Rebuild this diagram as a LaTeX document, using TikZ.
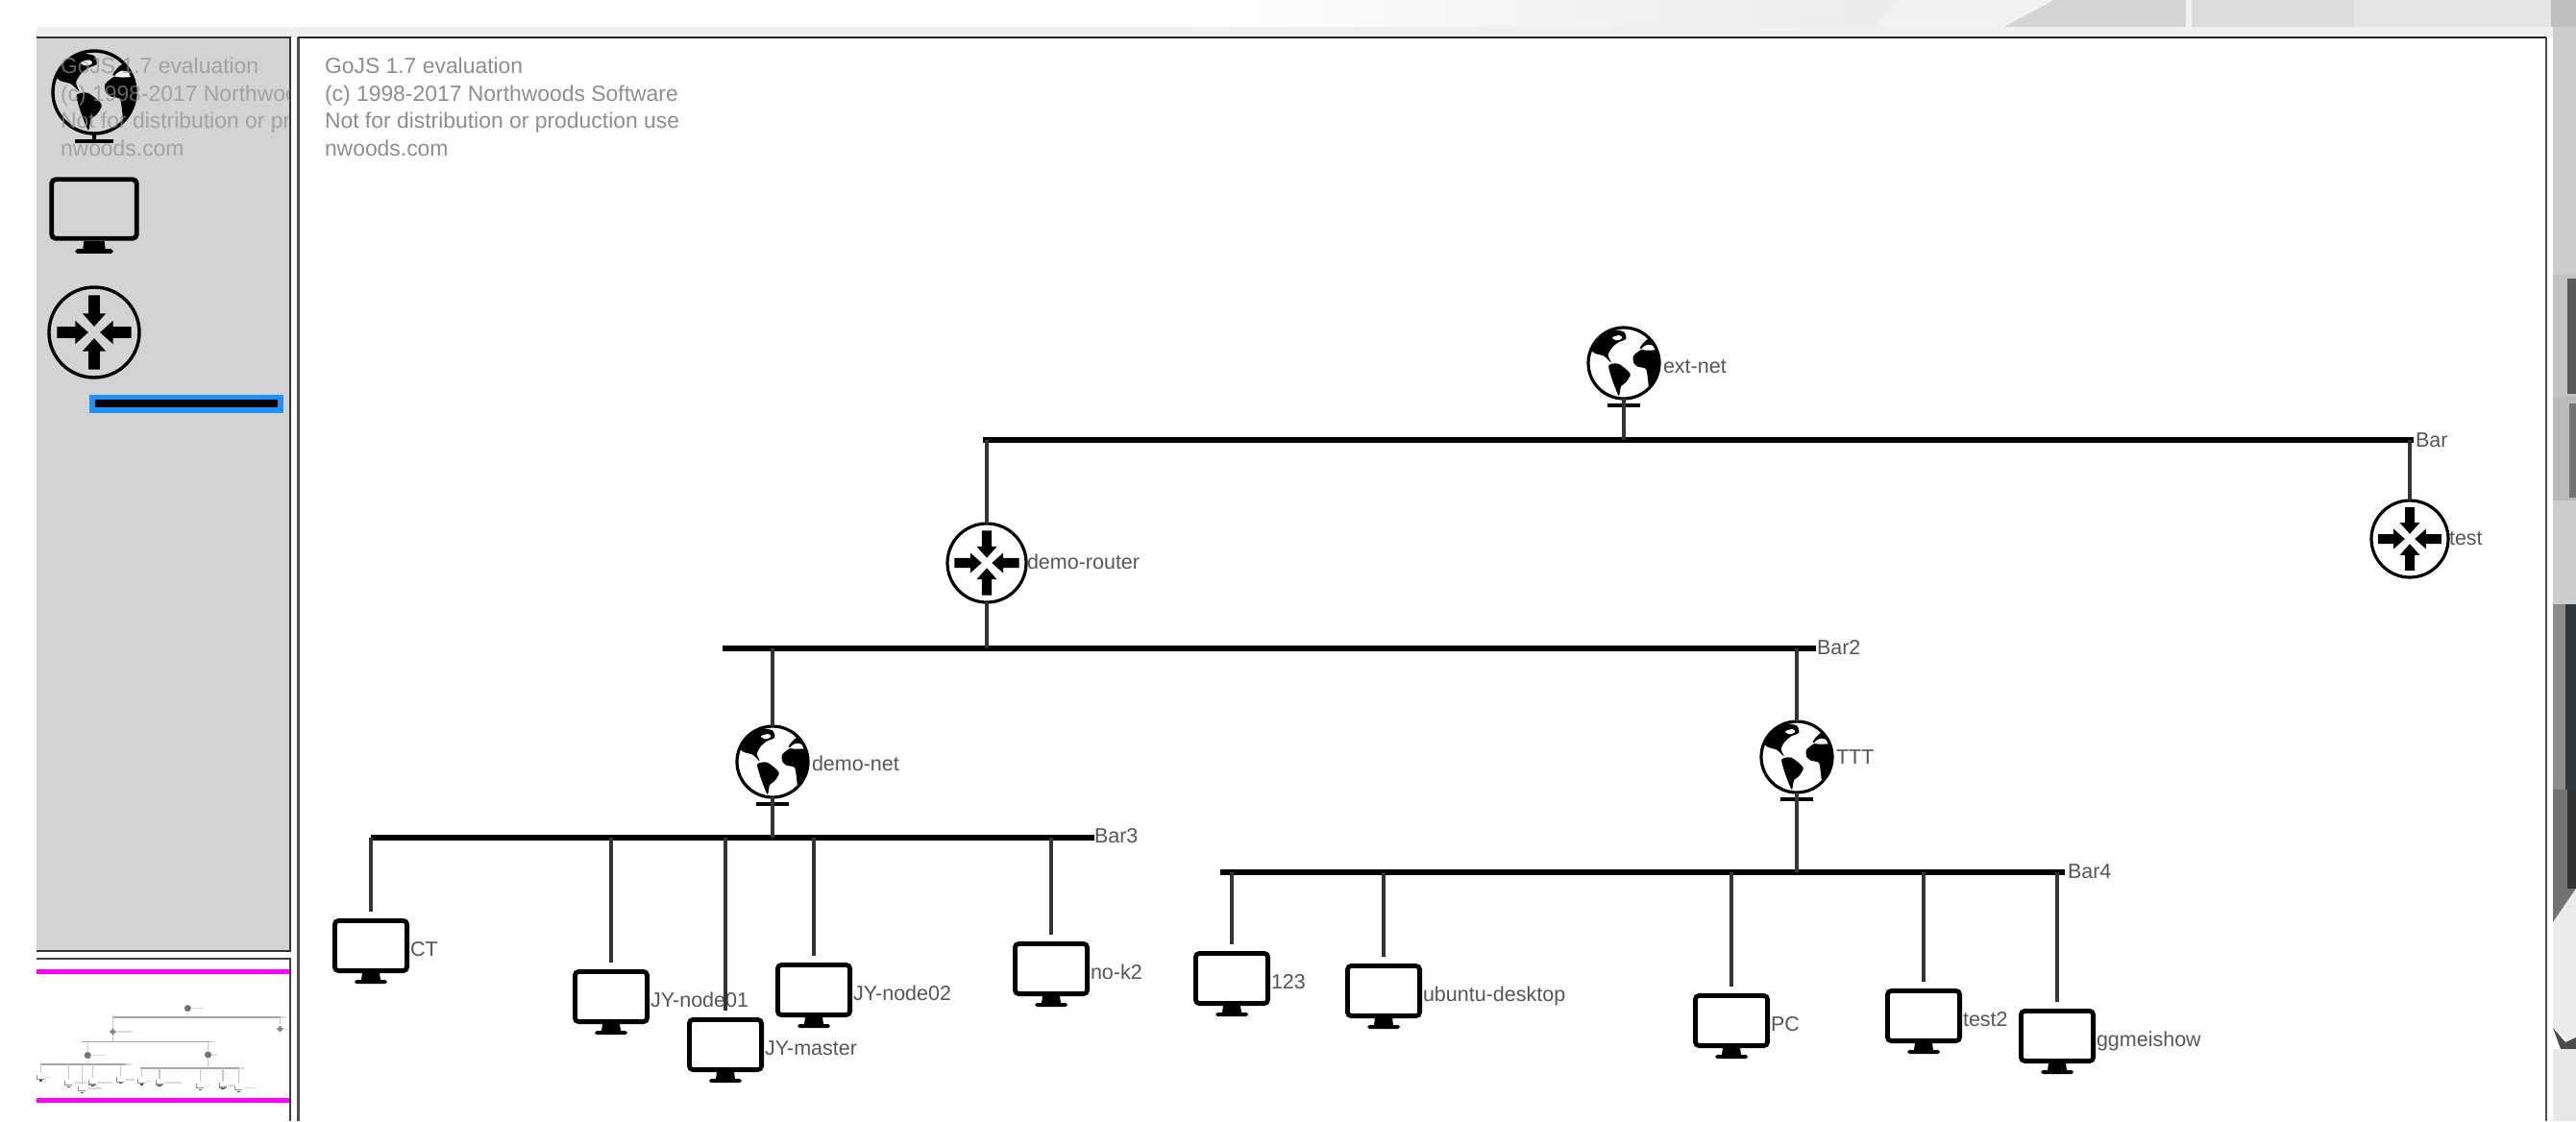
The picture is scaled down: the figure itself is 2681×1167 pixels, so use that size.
\documentclass[tikz,border=0pt]{standalone}
\usepackage{fontspec}
\setmainfont{Liberation Sans}
\definecolor{panelgray}{HTML}{D3D3D3}
\definecolor{wm}{HTML}{8E8E8E}
\definecolor{labcol}{HTML}{565656}
\definecolor{linkcol}{HTML}{333333}
\definecolor{selblue}{HTML}{1E90FF}
\definecolor{magentaline}{HTML}{FF00FF}
\definecolor{stripgray}{HTML}{F0F0F0}
\definecolor{slate}{HTML}{303840}
\tikzset{
  x=1pt,y=-1pt,
  barbox/.style={rectangle,fill=black,inner sep=0pt,outer sep=0pt,minimum height=6.5pt},
  monbox/.style={rectangle,inner sep=0pt,outer sep=0pt,minimum width=80pt,minimum height=75pt},
  roundbox/.style={circle,inner sep=0pt,outer sep=0pt},
  lab/.style={inner sep=0pt,outer sep=0pt,anchor=base west,text=labcol,font=\fontsize{21.5}{24}\selectfont},
  wmtext/.style={inner sep=0pt,outer sep=0pt,anchor=base west,text=wm,font=\fontsize{22.9}{28}\selectfont},
  link/.style={draw=linkcol,line width=3.4pt},
  monitor/.pic={
    \draw[black,line width=4.8pt,rounded corners=4pt] (-37.6,2.4) rectangle (37.6,54.6);
    \fill[black] (-9,57) -- (9,57) -- (10,64) -- (15,64) -- (17,66) -- (15,68) -- (-15,68) -- (-17,66) -- (-15,64) -- (-10,64) -- cycle;
  },
  router/.pic={
    \draw[black] (0,0) circle (1);
    \foreach \a in {0,90,180,270}{
      \fill[black,rotate=\a] (-.125,-.82) -- (.125,-.82) -- (.125,-.42) -- (.26,-.42) -- (0,-.13) -- (-.26,-.42) -- (-.125,-.42) -- cycle;
    }
  },
  globe/.pic={
    \begin{scope}
      \clip (0,0) circle (1);
      \fill[black] plot[smooth cycle,tension=.45] coordinates {(-.95,-.45) (-.68,-.75) (-.32,-.93) (0,-.88) (.06,-.68) (-.14,-.59) (-.32,-.45) (-.44,-.23) (-.36,-.02) (-.56,-.2) (-.82,-.28)};
      \fill[white] plot[smooth cycle,tension=.7] coordinates {(-.32,-.72) (-.12,-.78) (-.05,-.7) (-.2,-.64)};
      \fill[black] plot[smooth cycle,tension=.45] coordinates {(-.42,.06) (-.15,.02) (.18,.3) (.05,.55) (-.08,.65) (-.14,.92) (-.28,.6) (-.38,.3)};
      \fill[black] plot[smooth cycle,tension=.45] coordinates {(.27,-.2) (.5,-.38) (.75,-.38) (1.05,-.32) (1.08,.1) (.87,.55) (.72,.74) (.67,.4) (.62,.16) (.4,.1) (.28,0)};
      \fill[black] plot[smooth cycle,tension=.5] coordinates {(.45,-.42) (.68,-.68) (.9,-.56) (.98,-.35) (.7,-.4)};
      \fill[white] plot[smooth cycle,tension=.7] coordinates {(.5,-.4) (.7,-.52) (.95,-.4) (.7,-.36)};
    \end{scope}
    \draw[black] (0,0) circle (1);
    \draw[black] (0,1) -- (0,1.18);
    \draw[black,line width=4pt] (-.46,1.18) -- (.46,1.18);
  }
}
\newcommand{\monnode}[4]{%
  \node[monbox,anchor=north] (#1) at (#2,#3-7) {};
  \pic at (#2,#3) {monitor};
  \node[lab] (#1-l) at (#2+41,#3+39) {#4};
}
\newcommand{\routernode}[5]{%
  \node[roundbox,minimum size=#4*2pt] (#1) at (#2,#3) {};
  \pic[scale=#4,line width=3.2pt] at (#2,#3) {router};
  \node[lab] (#1-l) at (#2+#4+1,#3+6.5) {#5};
}
\newcommand{\globenode}[6]{%
  \node[roundbox,minimum size=#4*2pt] (#1) at (#2,#3) {};
  \pic[scale=#4,line width=3.2pt] at (#2,#3) {globe};
  \node[lab] (#1-l) at (#2+#4+4,#6) {#5};
}
\newcommand{\barnode}[7]{% name, x1, x2, y, labelx, label, label baseline
  \node[barbox,minimum width=#3pt-#2pt,anchor=west] (#1) at (#2,#4) {};
  \node[lab] (#1-l) at (#5,#7) {#6};
}
\begin{document}
\begin{tikzpicture}
\useasboundingbox (0,0) rectangle (2681,1167);
% page background
\fill[white] (0,0) rectangle (2681,1167);
\shade[left color=white,right color=black!5] (1230,0) rectangle (1650,30);
\shade[left color=black!5,right color=black!9] (1650,0) rectangle (2138,30);
\fill[black!5] (1975,0) -- (2138,0) -- (2082,30) -- (1950,30) -- cycle;
\fill[black!17] (2138,0) -- (2275,0) -- (2275,30) -- (2082,30) -- cycle;
\fill[black!5] (2275,0) rectangle (2281,30);
\fill[black!14] (2281,0) rectangle (2450,30);
\fill[black!10] (2450,0) rectangle (2655,30);
\fill[black!25] (2655,0) rectangle (2681,30);
% right strip
\fill[black!20] (2657,28) rectangle (2681,286);
\fill[black!24] (2657,286) rectangle (2681,413);
\fill[black!65] (2672,290) rectangle (2681,410);
\fill[black!27] (2657,413) rectangle (2681,521);
\fill[black!55] (2674,420) rectangle (2681,518);
\fill[black!20] (2657,521) rectangle (2681,629);
\fill[black!45] (2657,629) rectangle (2681,822);
\fill[slate] (2670,629) rectangle (2681,822);
\fill[black!55] (2657,822) rectangle (2681,960);
\fill[black!80] (2672,822) rectangle (2681,925);
\fill[black!8] (2657,960) -- (2681,925) -- (2681,1090) -- (2657,1070) -- cycle;
\fill[black!70] (2657,1070) -- (2670,1085) -- (2681,1080) -- (2681,1092) -- (2665,1092) -- cycle;
\fill[black!9] (2657,1092) rectangle (2681,1167);
% top strip and panels
\fill[stripgray] (38,28) rectangle (2657,39);
\fill[white] (2650,39) rectangle (2657,1167);
% palette panel
\fill[panelgray] (38,39) rectangle (302,990);
\draw[black!80,line width=2pt] (38,39) -- (302,39) -- (302,990) -- (38,990);
% palette icons
\node[roundbox,minimum size=86pt] (palglobe) at (98,96) {};
\pic[scale=43,line width=3.4pt] at (98,96) {globe};
\node[inner sep=0pt,minimum width=94pt,minimum height=78pt,anchor=north] (palmon) at (98,184) {};
\pic[scale=1.175] at (98,184) {monitor};
\node[roundbox,minimum size=94pt] (palrouter) at (98,346) {};
\pic[scale=47,line width=3.4pt] at (98,346) {router};
\node[rectangle,fill=selblue,inner sep=0pt,minimum width=202pt,minimum height=19pt,anchor=west] (palbarsel) at (93,420) {};
\node[barbox,minimum width=190pt,minimum height=8pt,anchor=west] (palbar) at (99,420) {};
% palette watermark
\begin{scope}
  \clip (38,40) rectangle (301,990);
  \node[wmtext,opacity=.7] (w1) at (63,76) {GoJS 1.7 evaluation};
  \node[wmtext,opacity=.7] (w2) at (63,105) {(c) 1998-2017 Northwoods Software};
  \node[wmtext,opacity=.7] (w3) at (63,133.5) {Not for distribution or production use};
  \node[wmtext,opacity=.7] (w4) at (63,162) {nwoods.com};
\end{scope}
% overview panel
\fill[white] (38,998) rectangle (302,1167);
\draw[black!75,line width=2pt] (38,998) -- (302,998) -- (302,1167);
\begin{scope}
  \clip (38,999) rectangle (301,1167);
  \begin{scope}[shift={(-3.2,1005)},xscale=.1175,yscale=.118]
    \foreach \xa/\xb/\yy in {1023/2512/458,752/1890/675,386/1139/872,1270/2149/908}
      \draw[black!35,line width=1.6pt] (\xa,\yy) -- (\xb,\yy);
    \foreach \xx/\ya/\yb in {1690/422/458,1027/458/627,1027/627/675,2508/458/521,804/675/757,804/837/872,1870/675/748,1870/832/908,386/872/950,636/872/1002,755/872/1052,847/872/995,1094/872/973,1282/908/983,1440/908/996,1802/908/1027,2002/908/1022,2141/908/1043}
      \draw[black!22,line width=1.2pt] (\xx,\ya) -- (\xx,\yb);
    \foreach \xx/\yy in {386/956,636/1009,755/1059,847/1002,1094/980,1282/990,1440/1003,1802/1034,2002/1029,2141/1050}{
      \draw[black!45,line width=1.4pt] (\xx-32,\yy+6) -- (\xx-32,\yy+48) -- (\xx+32,\yy+48);
      \fill[black!70] (\xx-14,\yy+56) rectangle (\xx+14,\yy+66);
    }
    \foreach \xx/\yy in {1690/378,804/793,1870/788}
      \fill[black!55] (\xx,\yy) circle (30);
    \foreach \xx/\yy in {1027/586,2508/561}
      \fill[black!50] (\xx-26,\yy-10) rectangle (\xx+26,\yy+10) (\xx-10,\yy-26) rectangle (\xx+10,\yy+26);
    \foreach \xa/\xb/\yy in {1730/1830/378,1068/1190/586,2550/2600/561,845/960/793,1908/1950/788,430/470/985,680/800/1035,800/930/1085,890/1020/1035,1140/1220/1010,1320/1370/1020,1480/1640/1035,1845/1880/1063,2045/2110/1060,2185/2300/1080,1890/1930/675,2512/2560/458,1139/1190/872,2149/2200/908}
      \draw[black!14,line width=1.4pt] (\xa,\yy) -- (\xb,\yy);
  \end{scope}
\end{scope}
\fill[magentaline] (38,1008.5) rectangle (301,1013.5);
\fill[magentaline] (38,1143) rectangle (301,1148);
% main canvas
\fill[white] (310,39) rectangle (2650,1167);
\draw[black!70,line width=2.4pt] (310.5,1167) -- (310.5,39);
\draw[black!70,line width=2.4pt] (2650,39) -- (2650,1167);
\draw[black!85,line width=2pt] (310,39) -- (2650,39);
\node[wmtext] (m1) at (338,76) {GoJS 1.7 evaluation};
\node[wmtext] (m2) at (338,105) {(c) 1998-2017 Northwoods Software};
\node[wmtext] (m3) at (338,133.5) {Not for distribution or production use};
\node[wmtext] (m4) at (338,162) {nwoods.com};
% bars
\barnode{bara}{1023}{2512}{458}{2514}{Bar}{465}
\barnode{barb}{752}{1890}{675}{1891}{Bar2}{681}
\barnode{barc}{386}{1139}{872}{1139}{Bar3}{877}
\barnode{bard}{1270}{2149}{908}{2152}{Bar4}{914}
% nodes
\globenode{extnet}{1690}{378}{37}{ext-net}{388}
\routernode{demorouter}{1027}{586}{41}{demo-router}
\routernode{test}{2508}{561}{40}{test}
\globenode{demonet}{804}{793}{37}{demo-net}{802}
\globenode{ttt}{1870}{788}{37}{TTT}{795}
\monnode{ct}{386}{956}{CT}
\monnode{node01}{636}{1009}{JY-node01}
\monnode{master}{755}{1059}{JY-master}
\monnode{node02}{847}{1002}{JY-node02}
\monnode{nok2}{1094}{980}{no-k2}
\monnode{n123}{1282}{990}{123}
\monnode{ubuntu}{1440}{1003}{ubuntu-desktop}
\monnode{pc}{1802}{1034}{PC}
\monnode{testtwo}{2002}{1029}{test2}
\monnode{ggmei}{2141}{1050}{ggmeishow}
% connectors
\draw[link] (extnet.south) -- (extnet.south |- bara.center);
\draw[link] (demorouter.north) -- (demorouter.north |- bara.center);
\draw[link] (demorouter.south) -- (demorouter.south |- barb.center);
\draw[link] (test.north) -- (test.north |- bara.center);
\draw[link] (demonet.north) -- (demonet.north |- barb.center);
\draw[link] (demonet.south) -- (demonet.south |- barc.center);
\draw[link] (ttt.north) -- (ttt.north |- barb.center);
\draw[link] (ttt.south) -- (ttt.south |- bard.center);
\foreach \n in {ct,node01,master,node02,nok2}
  \draw[link] (\n.north) -- (\n.north |- barc.center);
\foreach \n in {n123,ubuntu,pc,testtwo,ggmei}
  \draw[link] (\n.north) -- (\n.north |- bard.center);
\end{tikzpicture}
\end{document}
